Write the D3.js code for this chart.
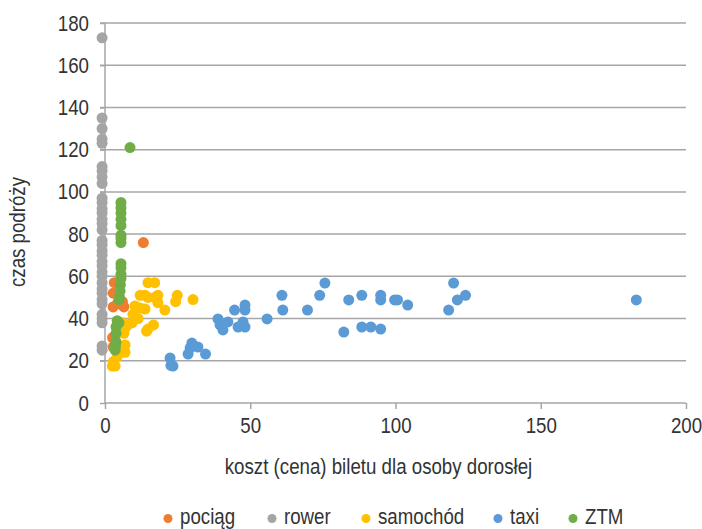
<!DOCTYPE html>
<html><head><meta charset="utf-8">
<script src="https://cdn.jsdelivr.net/npm/d3@7"></script>
<style>
body{margin:0;background:#fff;}
text{font-family:"Liberation Sans Narrow","Arial Narrow","Liberation Sans",Arial,sans-serif;fill:#333;}
</style></head><body>
<svg id="c" width="702" height="529"></svg>
<script>
const seriesNames = ["pociąg","rower","samochód","taxi","ZTM"];
const seriesColors = ["#ED7D31","#A5A5A5","#FFC000","#5B9BD5","#70AD47"];
const xTicks = [0,50,100,150,200];
const yTicks = [0,20,40,60,80,100,120,140,160,180];

const pociag = [[3.2,57],[2.8,52],[6,48],[2.8,45.5],[6.5,45.5],[2.6,31],[2.8,26.5],[4.5,35.5],[13.2,76],[4.2,47]];
const rower = [173,135,130,125,123,112,110,107,104,97,95,92,90,87,85,82,77,75,72,70,67,65,62,60,57,54,52,49,47,42,40,38,27,25].map(v=>[-1,v]);
const samochod = [[14.8,57],[17.1,57],[12.1,51],[13.8,51],[14.8,50],[17.1,50],[18.2,51],[24.9,51],[24.3,48],[30.3,49],
  [10.3,46],[12.1,45],[13.8,44.5],[18.2,47.5],[20.6,44],[9.6,42],[11.4,40],[9.3,38],[7.9,37],[6.9,35.5],
  [16.7,37],[14.8,35],[14.3,34],[6.2,38],[6.5,33],[6.9,27.5],[6.9,24],[5.2,26],[4.2,22],[2.8,19.5],[3.5,17.5],[2.5,17.5]];
const taxi = [[22.4,21.3],[23.4,17.5],[22.7,17.8],[29.9,28.4],[29.3,26],[28.6,23.2],[32,26.5],[34.6,23.2],
  [38.9,39.8],[39.6,37],[40.6,34.6],[42.3,38.4],[44.6,44],[48.2,46.4],[48.2,44],[45.8,36],[47.5,38.4],[48.2,36],
  [55.8,39.8],[60.9,51],[61.2,44],[69.7,44],[73.9,51],[75.7,56.8],[83.9,48.8],[88.4,51],[94.9,51],[94.9,48.8],
  [99.7,48.8],[100.7,48.8],[104.2,46.4],[120,56.8],[124.1,51],[121.3,48.8],[118.3,44],[182.9,48.8],
  [82.2,33.6],[88.4,36],[91.5,36],[94.9,35]];
const ztm = [[5.5,95],[5.5,92.5],[5.5,90],[5.5,87],[5.5,84],[5.5,79.5],[5.5,78],[5.5,76],[5.5,66],[5.5,64],[5.5,61],[5.5,59],
  [5.3,56],[5.2,53],[5.0,50],[4.8,49],[4.2,39],[4.8,38],[3.8,36],[3.8,33],[3.8,29],[3.6,27],[3.5,25],[8.6,121]];
const allSeries = [pociag, rower, samochod, taxi, ztm];

const FS = "22px", SX = 0.85;
const svg = d3.select("#c");
const x = d3.scaleLinear().domain([0,200]).range([105,686]);
const y = d3.scaleLinear().domain([0,180]).range([403,23]);
const grid = "#a6a6a6";

// gridlines
svg.append("g").selectAll("line").data(yTicks.slice(1)).join("line")
  .attr("x1",x(0)-5).attr("x2",x(200)).attr("y1",d=>y(d)).attr("y2",d=>y(d))
  .attr("stroke",grid).attr("stroke-width",1.5);

// y axis
const ya = svg.append("g").attr("transform",`translate(${x(0)},0)`)
  .call(d3.axisLeft(y).tickValues(yTicks).tickSize(5).tickPadding(10));
// x axis
const xa = svg.append("g").attr("transform",`translate(0,${y(0)})`)
  .call(d3.axisBottom(x).tickValues(xTicks).tickSize(6).tickPadding(8));
[ya,xa].forEach(a=>{
  a.selectAll("path,line").attr("stroke",grid).attr("stroke-width",1.5);
  a.select(".domain").attr("d", a===ya ? `M0,${y(180)}V${y(0)}` : `M${x(0)},0H${x(200)}`);
  a.selectAll("text").style("font-family",null).style("font-size",FS).attr("font-size",null)
    .attr("font-family",null).attr("fill","#333").attr("transform",`scale(${SX},1)`);
});
ya.selectAll("text").attr("x",-16/SX);

// points
allSeries.forEach((s,i)=>{
  svg.append("g").selectAll("circle").data(s).join("circle")
    .attr("cx",d=>x(d[0])).attr("cy",d=>y(d[1])).attr("r",5.5)
    .attr("fill",seriesColors[i]);
});

// axis titles
svg.append("text").attr("transform",`translate(${(x(0)+x(200))/2 - 17},474) scale(${SX},1)`).attr("text-anchor","middle")
  .style("font-size",FS).text("koszt (cena) biletu dla osoby dorosłej");
svg.append("text").attr("transform",`translate(25,232) rotate(-90) scale(${SX},1)`).attr("text-anchor","middle")
  .style("font-size",FS).text("czas podróży");

// legend
const legX = [168,272,366,498,573];
const leg = svg.append("g");
seriesNames.forEach((n,i)=>{
  leg.append("circle").attr("cx",legX[i]).attr("cy",518.5).attr("r",4.5).attr("fill",seriesColors[i]);
  leg.append("text").attr("transform",`translate(${legX[i]+12},524) scale(${SX},1)`).style("font-size",FS).text(n);
});
</script>
</body></html>
